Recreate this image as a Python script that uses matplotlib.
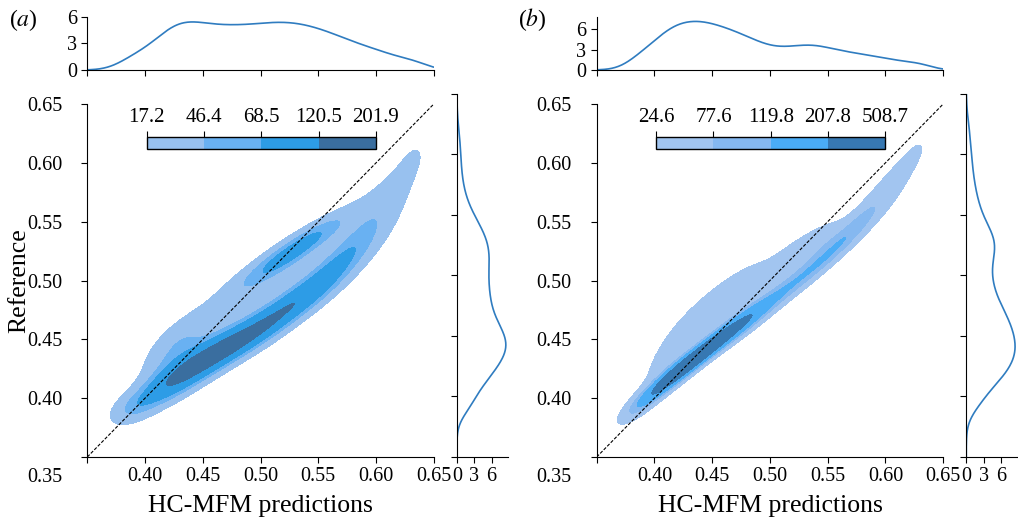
import numpy as np
import matplotlib.pyplot as plt
from matplotlib.colors import ListedColormap, BoundaryNorm
from matplotlib.cm import ScalarMappable

plt.rcParams['font.family'] = ['Liberation Serif', 'DejaVu Serif']
plt.rcParams['mathtext.fontset'] = 'stix'
plt.rcParams['font.size'] = 14.5

# density model: gaussian pieces along the ridge,
# then an upper blob and broad pieces above the ridge
# centre x, centre y, angle (deg), spread along, spread across, weight
a_mx = [0.388, 0.408, 0.428, 0.449, 0.471, 0.493, 0.514, 0.535, 0.555, 0.573, 0.590, 0.605, 0.620, 0.635,
        0.530, 0.427, 0.478]
a_my = [0.391, 0.404, 0.417, 0.430, 0.443, 0.456, 0.470, 0.485, 0.501, 0.519, 0.538, 0.559, 0.583, 0.609,
        0.526, 0.443, 0.480]
a_ang = [28, 31, 33, 31, 29, 30, 34, 37, 42, 46, 50, 55, 58, 62,
         33, 42, 35]
a_sa = [0.015, 0.02, 0.02, 0.02, 0.02, 0.02, 0.02, 0.02, 0.02, 0.02, 0.02, 0.02, 0.02, 0.017,
        0.038, 0.025, 0.045]
a_sc = [0.008, 0.0088, 0.0088, 0.0088, 0.0085, 0.0085, 0.0085, 0.0085, 0.009, 0.010, 0.011, 0.012, 0.012, 0.011,
        0.007, 0.011, 0.014]
a_w = [0.022, 0.050, 0.075, 0.090, 0.090, 0.075, 0.068, 0.066, 0.058, 0.050, 0.040, 0.030, 0.022, 0.015,
       0.140, 0.065, 0.075]
a_levels = [17.2, 46.4, 68.5, 120.5, 201.9]
a_colors = ['#98c1ef', '#69b1f2', '#2d9ce6', '#3a6e9f']

b_mx = [0.385, 0.403, 0.422, 0.441, 0.461, 0.481, 0.501, 0.521, 0.541, 0.560, 0.578, 0.595, 0.612, 0.630,
        0.535, 0.410, 0.445, 0.490]
b_my = [0.393, 0.408, 0.423, 0.438, 0.453, 0.468, 0.483, 0.498, 0.514, 0.531, 0.549, 0.568, 0.590, 0.614,
        0.528, 0.430, 0.470, 0.505]
b_ang = [40, 40, 39, 38, 37, 37, 37, 38, 40, 43, 46, 50, 55, 60,
         35, 55, 45, 37]
b_sa = [0.015, 0.018, 0.018, 0.018, 0.018, 0.018, 0.018, 0.018, 0.018, 0.018, 0.018, 0.018, 0.018, 0.017,
        0.022, 0.030, 0.035, 0.060]
b_sc = [0.005, 0.0045, 0.0045, 0.0045, 0.005, 0.0055, 0.0055, 0.0055, 0.0052, 0.0055, 0.006, 0.0075, 0.009, 0.009,
        0.006, 0.009, 0.010, 0.013]
b_w = [0.022, 0.065, 0.100, 0.110, 0.095, 0.075, 0.045, 0.040, 0.042, 0.042, 0.040, 0.030, 0.024, 0.018,
       0.045, 0.050, 0.065, 0.110]
b_levels = [24.6, 77.6, 119.8, 207.8, 508.7]
b_colors = ['#a2c5f0', '#85b8f0', '#4aacf6', '#3778b2']

ticks = [0.35, 0.40, 0.45, 0.50, 0.55, 0.60, 0.65]


def mixture(X, Y, mx, my, ang, sa, sc, w):
    Z = np.zeros_like(X)
    for cx, cy, t, s1, s2, wt in zip(mx, my, ang, sa, sc, w):
        t = np.deg2rad(t)
        u = (X - cx) * np.cos(t) + (Y - cy) * np.sin(t)
        v = -(X - cx) * np.sin(t) + (Y - cy) * np.cos(t)
        Z += wt / (2 * np.pi * s1 * s2) * np.exp(-0.5 * (u / s1) ** 2 - 0.5 * (v / s2) ** 2)
    return Z


W, H = 1018, 522
fig = plt.figure(figsize=(W / 100, H / 100), dpi=100)


def box(x0, x1, y0, y1):
    # pixel box -> figure fraction
    return [x0 / W, 1 - y1 / H, (x1 - x0) / W, (y1 - y0) / H]


def panel(x0, tag, mx, my, ang, sa, sc, w, levels, colors, top_max, right_max):
    gx = np.linspace(0.25, 0.75, 700)
    gy = np.linspace(0.25, 0.75, 700)
    X, Y = np.meshgrid(gx, gy)
    Z = mixture(X, Y, mx, my, ang, sa, sc, w)
    px = np.trapezoid(Z, gy, axis=0)
    py = np.trapezoid(Z, gx, axis=1)

    ax = fig.add_axes(box(x0, x0 + 346.5, 104, 457))
    ax.contourf(X, Y, Z, levels=levels, colors=colors + [colors[-1]], extend='max')
    ax.plot([0.35, 0.65], [0.35, 0.65], color='k', ls='--', lw=0.8, dashes=(3, 1.5))
    ax.set_xlim(0.35, 0.65)
    ax.set_ylim(0.35, 0.65)
    ax.set_xticks(ticks)
    ax.set_yticks(ticks)
    ax.set_xticklabels([''] + ['%.2f' % t for t in ticks[1:]])
    ax.set_yticklabels([''] + ['%.2f' % t for t in ticks[1:]])
    ax.tick_params(axis='y', pad=14)
    # the corner label sits one row lower in the reference
    ax.annotate('0.35', xy=(0, 0), xycoords='axes fraction', xytext=(-18, -15),
                textcoords='offset points', ha='right', va='center', fontsize=14.5)
    for s in ['top', 'right']:
        ax.spines[s].set_visible(False)
    ax.set_xlabel('HC-MFM predictions', fontsize=18.5)
    ax.xaxis.set_label_coords(0.5, -0.108)
    if tag == 'a':
        ax.set_ylabel('Reference', fontsize=18.5)
        ax.yaxis.set_label_coords(-0.165, 0.5)

    # colour bar inside the joint axes
    cax = fig.add_axes(box(x0 + 59.5, x0 + 288.5, 137, 148.5))
    cb = fig.colorbar(ScalarMappable(norm=BoundaryNorm(levels, len(colors)),
                                     cmap=ListedColormap(colors)),
                      cax=cax, orientation='horizontal', ticks=levels)
    cb.set_ticklabels(['%.1f' % v for v in levels])
    cax.xaxis.set_ticks_position('top')
    cax.tick_params(labelsize=15, length=4, width=0.8)
    cb.outline.set_linewidth(1.0)

    # marginal of predictions
    axt = fig.add_axes(box(x0, x0 + 346.5, 16.5, 70))
    axt.plot(gx, px, color='#2f7cc0', lw=1.2)
    axt.set_xlim(0.35, 0.65)
    axt.set_ylim(0, top_max)
    axt.set_xticks(ticks)
    axt.set_xticklabels([])
    axt.set_yticks([0, 3, 6])
    for s in ['top', 'right']:
        axt.spines[s].set_visible(False)

    # marginal of reference
    axr = fig.add_axes(box(x0 + 369.5, x0 + 420.5, 94, 457))
    axr.plot(py, gy, color='#2f7cc0', lw=1.2)
    axr.set_ylim(0.35, 0.65)
    axr.set_xlim(0, right_max)
    axr.set_yticks(ticks)
    axr.set_yticklabels([])
    axr.set_xticks([0, 3, 6])
    for s in ['top', 'right']:
        axr.spines[s].set_visible(False)

    for a in (ax, axt, axr):
        a.tick_params(direction='out', length=4, width=0.8)

    fig.text((x0 - 64) / W, 1 - 20 / H, '($%s$)' % tag, fontsize=17, va='center', ha='center')


panel(87.3, 'a', a_mx, a_my, a_ang, a_sa, a_sc, a_w, a_levels, a_colors, 6.0, 8.8)
panel(596.7, 'b', b_mx, b_my, b_ang, b_sa, b_sc, b_w, b_levels, b_colors, 7.9, 8.75)

fig.savefig('out.png', dpi=100)
